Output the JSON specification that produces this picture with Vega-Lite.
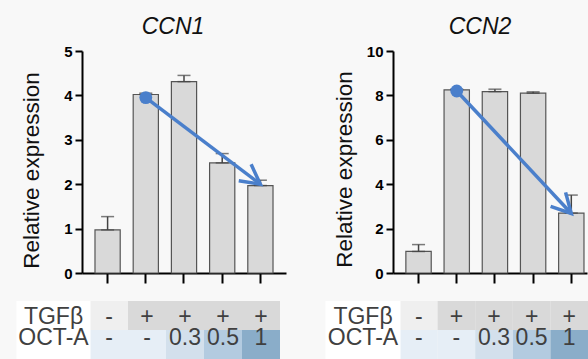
{
  "$schema": "https://vega.github.io/schema/vega-lite/v6.json",
  "background": "#f8f8f8",
  "padding": {"left": 1, "top": 16, "right": 0, "bottom": 0},
  "config": {"view": {"stroke": null}, "font": "Liberation Sans"},
  "datasets": {
    "bars": [
      {"gene": "CCN1", "cond": "1", "value": 0.97, "hi": 1.27},
      {"gene": "CCN1", "cond": "2", "value": 4.02, "hi": 4.05},
      {"gene": "CCN1", "cond": "3", "value": 4.31, "hi": 4.45},
      {"gene": "CCN1", "cond": "4", "value": 2.48, "hi": 2.69},
      {"gene": "CCN1", "cond": "5", "value": 1.97, "hi": 2.09},
      {"gene": "CCN2", "cond": "1", "value": 0.97, "hi": 1.28},
      {"gene": "CCN2", "cond": "2", "value": 8.25, "hi": 8.28},
      {"gene": "CCN2", "cond": "3", "value": 8.17, "hi": 8.28},
      {"gene": "CCN2", "cond": "4", "value": 8.1, "hi": 8.16},
      {"gene": "CCN2", "cond": "5", "value": 2.7, "hi": 3.51}
    ],
    "arrows": [
      {"gene": "CCN1", "cond": "2", "value": 3.95, "part": "start"},
      {"gene": "CCN1", "cond": "5", "value": 2.0, "part": "end"},
      {"gene": "CCN2", "cond": "2", "value": 8.2, "part": "start"},
      {"gene": "CCN2", "cond": "5", "value": 2.68, "part": "end"}
    ],
    "table": [
      {"row": "TGFβ", "cond": "1", "label": "-"},
      {"row": "TGFβ", "cond": "2", "label": "+"},
      {"row": "TGFβ", "cond": "3", "label": "+"},
      {"row": "TGFβ", "cond": "4", "label": "+"},
      {"row": "TGFβ", "cond": "5", "label": "+"},
      {"row": "OCT-A", "cond": "1", "label": "-"},
      {"row": "OCT-A", "cond": "2", "label": "-"},
      {"row": "OCT-A", "cond": "3", "label": "0.3"},
      {"row": "OCT-A", "cond": "4", "label": "0.5"},
      {"row": "OCT-A", "cond": "5", "label": "1"}
    ]
  },
  "columns": 2,
  "spacing": {"row": 16, "column": 24},
  "resolve": {"scale": {"x": "independent", "y": "independent", "fill": "independent"}},
  "concat": [
    {
      "width": 204,
      "height": 222,
      "title": {"text": "CCN1", "font": "Liberation Sans", "fontSize": 23, "fontStyle": "italic", "fontWeight": "normal", "color": "#111111", "dx": -11, "offset": 5},
      "encoding": {
        "x": {"field": "cond", "type": "nominal", "scale": {"paddingInner": 0.34, "paddingOuter": 0.34},
          "axis": {"title": null, "labels": false, "ticks": true, "tickSize": 10, "tickWidth": 2, "tickColor": "#000000", "domainColor": "#000000", "domainWidth": 2, "grid": false}},
        "y": {"field": "value", "type": "quantitative", "scale": {"domain": [0, 5], "nice": false},
          "axis": {"title": "Relative expression", "titleFont": "Liberation Sans", "titleFontSize": 22.5, "titleFontWeight": "normal", "titleColor": "#111111", "titleX": -39, "titleY": 119, "titleAngle": 270, "titleBaseline": "bottom", "titleAlign": "center",
            "values": [0, 1, 2, 3, 4, 5], "labelFont": "Liberation Sans", "labelFontWeight": "bold", "labelFontSize": 15, "labelColor": "#000000", "labelPadding": 3, "tickSize": 7, "tickWidth": 2, "tickColor": "#000000", "domainColor": "#000000", "domainWidth": 2, "grid": false}}
      },
      "layer": [
        {
          "data": {"name": "bars"},
          "transform": [{"filter": "datum.gene === 'CCN1'"}],
          "mark": {"type": "bar", "fill": "#d9d9d9", "stroke": "#555555", "strokeWidth": 1.2}
        },
        {
          "data": {"name": "bars"},
          "transform": [{"filter": "datum.gene === 'CCN1'"}],
          "mark": {"type": "errorbar", "ticks": {"color": "#444444", "thickness": 1.5, "size": 13}, "rule": {"color": "#444444", "strokeWidth": 1.5}},
          "encoding": {"y2": {"field": "hi"}}
        },
        {
          "data": {"name": "arrows"},
          "transform": [{"filter": "datum.gene === 'CCN1'"}],
          "mark": {"type": "line", "color": "#4a7fcb", "strokeWidth": 3.5}
        },
        {
          "data": {"name": "arrows"},
          "transform": [{"filter": "datum.gene === 'CCN1' && datum.part === 'start'"}],
          "mark": {"type": "circle", "color": "#4a7fcb", "size": 165, "opacity": 1}
        },
        {
          "data": {"name": "arrows"},
          "transform": [{"filter": "datum.gene === 'CCN1' && datum.part === 'end'"}],
          "mark": {"type": "point", "shape": "M-1,-0.53L0,0L-1,0.53", "filled": false, "stroke": "#4a7fcb", "strokeWidth": 3.5, "size": 1500, "angle": 37, "opacity": 1}
        }
      ]
    },
    {
      "width": 194,
      "height": 222,
      "title": {"text": "CCN2", "font": "Liberation Sans", "fontSize": 23, "fontStyle": "italic", "fontWeight": "normal", "color": "#111111", "dx": -10, "offset": 5},
      "encoding": {
        "x": {"field": "cond", "type": "nominal", "scale": {"paddingInner": 0.336, "paddingOuter": 0.208, "align": 0.81},
          "axis": {"title": null, "labels": false, "ticks": true, "tickSize": 10, "tickWidth": 2, "tickColor": "#000000", "domainColor": "#000000", "domainWidth": 2, "grid": false}},
        "y": {"field": "value", "type": "quantitative", "scale": {"domain": [0, 10], "nice": false},
          "axis": {"title": "Relative expression", "titleFont": "Liberation Sans", "titleFontSize": 22.5, "titleFontWeight": "normal", "titleColor": "#111111", "titleX": -37, "titleY": 118, "titleAngle": 270, "titleBaseline": "bottom", "titleAlign": "center",
            "values": [0, 2, 4, 6, 8, 10], "labelFont": "Liberation Sans", "labelFontWeight": "bold", "labelFontSize": 15, "labelColor": "#000000", "labelPadding": 3, "tickSize": 7, "tickWidth": 2, "tickColor": "#000000", "domainColor": "#000000", "domainWidth": 2, "grid": false}}
      },
      "layer": [
        {
          "data": {"name": "bars"},
          "transform": [{"filter": "datum.gene === 'CCN2'"}],
          "mark": {"type": "bar", "fill": "#d9d9d9", "stroke": "#555555", "strokeWidth": 1.2}
        },
        {
          "data": {"name": "bars"},
          "transform": [{"filter": "datum.gene === 'CCN2'"}],
          "mark": {"type": "errorbar", "ticks": {"color": "#444444", "thickness": 1.5, "size": 13}, "rule": {"color": "#444444", "strokeWidth": 1.5}},
          "encoding": {"y2": {"field": "hi"}}
        },
        {
          "data": {"name": "arrows"},
          "transform": [{"filter": "datum.gene === 'CCN2'"}],
          "mark": {"type": "line", "color": "#4a7fcb", "strokeWidth": 3.5}
        },
        {
          "data": {"name": "arrows"},
          "transform": [{"filter": "datum.gene === 'CCN2' && datum.part === 'start'"}],
          "mark": {"type": "circle", "color": "#4a7fcb", "size": 165, "opacity": 1}
        },
        {
          "data": {"name": "arrows"},
          "transform": [{"filter": "datum.gene === 'CCN2' && datum.part === 'end'"}],
          "mark": {"type": "point", "shape": "M-1,-0.53L0,0L-1,0.53", "filled": false, "stroke": "#4a7fcb", "strokeWidth": 3.5, "size": 1500, "angle": 47, "opacity": 1}
        }
      ]
    },
    {
      "width": 198,
      "height": 58,
      "data": {"name": "table"},
      "encoding": {
        "x": {"field": "cond", "type": "nominal", "scale": {"paddingInner": 0, "paddingOuter": 0.105, "align": 1}, "axis": null},
        "y": {"field": "row", "type": "nominal", "sort": ["TGFβ", "OCT-A"], "scale": {"paddingInner": 0, "paddingOuter": 0},
          "axis": {"title": null, "orient": "left", "offset": -8, "domain": false, "ticks": true, "tickSize": 74, "tickWidth": 29, "tickColor": "#ffffff", "tickCap": "butt", "labelPadding": -37, "labelAlign": "center", "labelFont": "Liberation Sans", "labelFontSize": 23, "labelColor": "#404040",
            "labelOffset": {"condition": {"test": "datum.value === 'TGFβ'", "value": 1}, "value": -7}}}
      },
      "layer": [
        {"transform": [{"filter": "datum.row === 'TGFβ'"}], "mark": {"type": "rect"},
          "encoding": {"fill": {"field": "label", "type": "nominal", "scale": {"domain": ["-", "+"], "range": ["#efefef", "#d9d9d9"]}, "legend": null}}},
        {"transform": [{"filter": "datum.row === 'OCT-A'"}], "mark": {"type": "rect"},
          "encoding": {"fill": {"field": "label", "type": "nominal", "scale": {"domain": ["-", "0.3", "0.5", "1"], "range": ["#e6eef6", "#d3e0ec", "#b3cbe0", "#8aadc9"]}, "legend": null}}},
        {"transform": [{"filter": "datum.row === 'TGFβ'"}], "mark": {"type": "text", "font": "Liberation Sans", "fontSize": 23, "color": "#404040", "dy": 1},
          "encoding": {"text": {"field": "label"}}},
        {"transform": [{"filter": "datum.row === 'OCT-A'"}], "mark": {"type": "text", "font": "Liberation Sans", "fontSize": 23, "color": "#404040", "dy": -7},
          "encoding": {"text": {"field": "label"}}}
      ],
      "resolve": {"scale": {"fill": "independent"}}
    },
    {
      "width": 195,
      "height": 58,
      "data": {"name": "table"},
      "encoding": {
        "x": {"field": "cond", "type": "nominal", "scale": {"paddingInner": 0, "paddingOuter": 0.093, "align": 1}, "axis": null},
        "y": {"field": "row", "type": "nominal", "sort": ["TGFβ", "OCT-A"], "scale": {"paddingInner": 0, "paddingOuter": 0},
          "axis": {"title": null, "orient": "left", "offset": -7, "domain": false, "ticks": true, "tickSize": 75, "tickWidth": 29, "tickColor": "#ffffff", "tickCap": "butt", "labelPadding": -37.5, "labelAlign": "center", "labelFont": "Liberation Sans", "labelFontSize": 23, "labelColor": "#404040",
            "labelOffset": {"condition": {"test": "datum.value === 'TGFβ'", "value": 1}, "value": -7}}}
      },
      "layer": [
        {"transform": [{"filter": "datum.row === 'TGFβ'"}], "mark": {"type": "rect"},
          "encoding": {"fill": {"field": "label", "type": "nominal", "scale": {"domain": ["-", "+"], "range": ["#efefef", "#d9d9d9"]}, "legend": null}}},
        {"transform": [{"filter": "datum.row === 'OCT-A'"}], "mark": {"type": "rect"},
          "encoding": {"fill": {"field": "label", "type": "nominal", "scale": {"domain": ["-", "0.3", "0.5", "1"], "range": ["#e6eef6", "#d3e0ec", "#b3cbe0", "#8aadc9"]}, "legend": null}}},
        {"transform": [{"filter": "datum.row === 'TGFβ'"}], "mark": {"type": "text", "font": "Liberation Sans", "fontSize": 23, "color": "#404040", "dy": 1},
          "encoding": {"text": {"field": "label"}}},
        {"transform": [{"filter": "datum.row === 'OCT-A'"}], "mark": {"type": "text", "font": "Liberation Sans", "fontSize": 23, "color": "#404040", "dy": -7},
          "encoding": {"text": {"field": "label"}}}
      ],
      "resolve": {"scale": {"fill": "independent"}}
    }
  ]
}
